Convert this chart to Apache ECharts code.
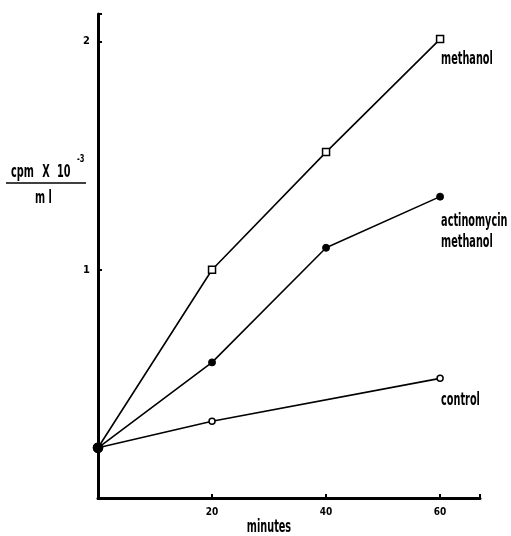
<!DOCTYPE html>
<html>
<head>
<meta charset="utf-8">
<script src="https://cdn.jsdelivr.net/npm/echarts@6/dist/echarts.min.js"></script>
<style>html,body{margin:0;padding:0;background:#fff;}#c{width:511px;height:536px;}</style>
</head>
<body>
<div id="c"></div>
<script>
var xTicks = [20, 40, 60];
var yTicks = [1, 2];
var methanolX = [0, 20, 40, 60];
var methanolY = [0.22, 1.00, 1.515, 2.01];
var actinoX = [0, 20, 40, 60];
var actinoY = [0.22, 0.594, 1.096, 1.32];
var controlX = [0, 20, 60];
var controlY = [0.22, 0.336, 0.524];

var FONT = '"DejaVu Sans Condensed", "DejaVu Sans", sans-serif';
var LBL = 'bold 18px ' + FONT;
var SX = 0.6;

function pairs(xs, ys) {
  return xs.map(function (x, i) {
    var d = { value: [x, ys[i]] };
    if (i === 0) { d.symbol = 'circle'; d.symbolSize = 9; d.itemStyle = { color: '#000', borderColor: '#000' }; }
    return d;
  });
}

var chart = echarts.init(document.getElementById('c'));
var lineStyle = { color: '#000', width: 1.6 };
var option = {
  backgroundColor: '#fff',
  animation: false,
  grid: { left: 98, top: 14, right: 31, bottom: 38 },
  xAxis: {
    type: 'value', min: 0, max: 67, interval: 20,
    axisLine: { show: true, lineStyle: { color: '#000', width: 3 } },
    axisTick: { show: true, inside: true, length: 4, lineStyle: { color: '#000', width: 2 } },
    splitLine: { show: false },
    axisLabel: {
      color: '#000', fontFamily: FONT, fontWeight: 'bold', fontSize: 10, margin: 9,
      formatter: function (v) { return xTicks.indexOf(v) >= 0 ? String(v) : ''; }
    }
  },
  yAxis: {
    type: 'value', min: 0, max: 2.12, interval: 1,
    axisLine: { show: true, lineStyle: { color: '#000', width: 3 } },
    axisTick: { show: true, inside: true, length: 4, lineStyle: { color: '#000', width: 2 } },
    splitLine: { show: false },
    axisLabel: {
      color: '#000', fontFamily: FONT, fontWeight: 'bold', fontSize: 11, margin: 8,
      formatter: function (v) { return yTicks.indexOf(v) >= 0 ? String(v) : ''; }
    }
  },
  series: [
    {
      type: 'line', data: pairs(methanolX, methanolY), symbol: 'rect', symbolSize: 7,
      lineStyle: lineStyle, itemStyle: { color: '#fff', borderColor: '#000', borderWidth: 1.5 }
    },
    {
      type: 'line', data: pairs(actinoX, actinoY), symbol: 'circle', symbolSize: 7,
      lineStyle: lineStyle, itemStyle: { color: '#000', borderColor: '#000', borderWidth: 1 }
    },
    {
      type: 'line', data: pairs(controlX, controlY), symbol: 'circle', symbolSize: 6,
      lineStyle: lineStyle, itemStyle: { color: '#fff', borderColor: '#000', borderWidth: 1.5 }
    }
  ]
};
chart.setOption(option);

function txt(text, x, y, align, font, sx) {
  return {
    type: 'text', x: x, y: y, scaleX: sx || SX, scaleY: 1,
    style: { text: text, fill: '#000', font: font || LBL, align: align || 'left', verticalAlign: 'middle' }
  };
}

var pM = chart.convertToPixel({ seriesIndex: 0 }, [methanolX[3], methanolY[3]]);
var pA = chart.convertToPixel({ seriesIndex: 1 }, [actinoX[3], actinoY[3]]);
var pC = chart.convertToPixel({ seriesIndex: 2 }, [controlX[2], controlY[2]]);

chart.setOption({
  graphic: [
    txt('methanol', pM[0] + 1, pM[1] + 20),
    txt('actinomycin', pA[0] + 1, pA[1] + 25),
    txt('methanol', pA[0] + 1, pA[1] + 46),
    txt('control', pC[0] + 1, pC[1] + 22),
    txt('cpm', 11, 172),
    txt('X', 46, 172, 'center'),
    txt('10', 57, 172),
    txt('-3', 77, 159, 'left', 'bold 10px ' + FONT, 0.75),
    { type: 'line', shape: { x1: 6, y1: 183, x2: 86, y2: 183 }, style: { stroke: '#000', lineWidth: 1.6 } },
    txt('m l', 35, 198),
    txt('minutes', 269, 527, 'center')
  ]
});
</script>
</body>
</html>
